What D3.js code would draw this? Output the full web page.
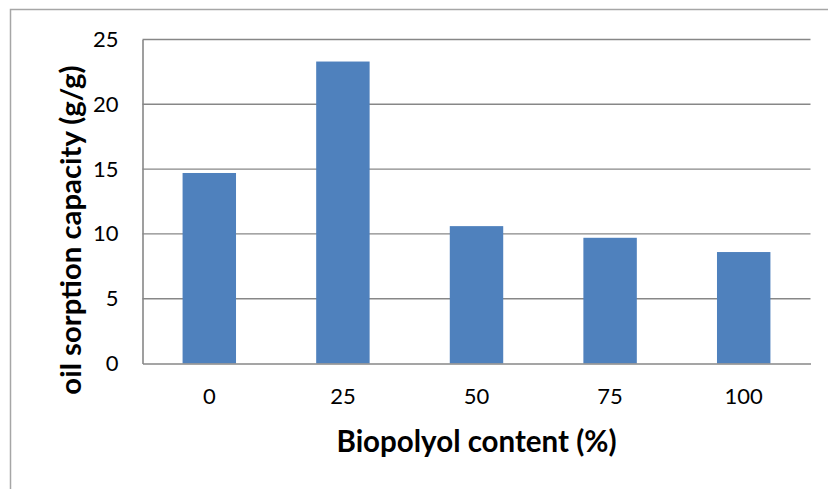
<!DOCTYPE html>
<html>
<head>
<meta charset="utf-8">
<script src="https://cdn.jsdelivr.net/npm/d3@7"></script>
<style>
  html, body { margin: 0; padding: 0; background: #fff; }
  svg { display: block; }
  text { font-family: Lato, "Open Sans", sans-serif; fill: #000; }
</style>
</head>
<body>
<svg id="chart" width="828" height="489"></svg>
<script>
// Oil sorption capacity by biopolyol content
const categories = ["0", "25", "50", "75", "100"];
const sorption = [14.7, 23.3, 10.6, 9.7, 8.6];
const yTicks = [0, 5, 10, 15, 20, 25];
const xTitle = "Biopolyol content (%)";
const yTitle = "oil sorption capacity (g/g)";

const svg = d3.select("#chart");
const plot = { left: 142.5, right: 810.5, top: 39.5, bottom: 363.5 };

// chart area frame (runs past the window edges on the right and bottom)
svg.append("rect")
  .attr("x", 10.5).attr("y", 9.5)
  .attr("width", 900).attr("height", 600)
  .attr("fill", "#fff")
  .attr("stroke", "#a6a6a6")
  .attr("stroke-width", 1.5);

const x = d3.scaleBand()
  .domain(categories)
  .range([plot.left, plot.right])
  .paddingInner(0.6)
  .paddingOuter(0.3);

const y = d3.scaleLinear()
  .domain([0, 25])
  .range([plot.bottom, plot.top]);

// horizontal gridlines
svg.append("g")
  .selectAll("line")
  .data(yTicks.filter(d => d > 0))
  .join("line")
  .attr("x1", plot.left).attr("x2", plot.right)
  .attr("y1", d => y(d)).attr("y2", d => y(d))
  .attr("stroke", "#878787")
  .attr("stroke-width", 1.4);

// bars
svg.append("g")
  .selectAll("rect")
  .data(categories.map((c, i) => ({ c, v: sorption[i] })))
  .join("rect")
  .attr("x", d => x(d.c))
  .attr("width", x.bandwidth())
  .attr("y", d => y(d.v))
  .attr("height", d => y(0) - y(d.v))
  .attr("fill", "#4f81bd");

// y axis
const yAxis = svg.append("g")
  .attr("transform", `translate(${plot.left},0)`)
  .call(d3.axisLeft(y).tickValues(yTicks).tickSize(0).tickPadding(24));
yAxis.select(".domain").attr("stroke", "#878787").attr("stroke-width", 1.6);
yAxis.selectAll("text")
  .attr("font-size", 22)
  .attr("font-family", "Lato, sans-serif")
  .attr("fill", "#000");

// x axis
const xAxis = svg.append("g")
  .attr("transform", `translate(0,${plot.bottom})`)
  .call(d3.axisBottom(x).tickSize(0).tickPadding(25));
xAxis.select(".domain").attr("stroke", "#878787").attr("stroke-width", 1.6);
xAxis.selectAll("text")
  .attr("font-size", 22)
  .attr("font-family", "Lato, sans-serif")
  .attr("fill", "#000");

// axis titles
svg.append("text")
  .attr("x", (plot.left + plot.right) / 2)
  .attr("y", 452)
  .attr("text-anchor", "middle")
  .attr("font-size", 29.5)
  .attr("font-weight", "bold")
  .text(xTitle);

svg.append("text")
  .attr("transform", "translate(81,230) rotate(-90)")
  .attr("text-anchor", "middle")
  .attr("font-size", 29.3)
  .attr("font-weight", "bold")
  .text(yTitle);
</script>
</body>
</html>
